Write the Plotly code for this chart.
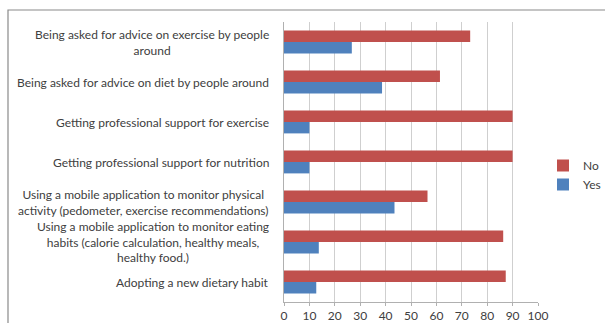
import plotly.graph_objects as go

# Survey items, listed top to bottom as drawn
categories = [
    "Being asked for advice on exercise by people<br>around",
    "Being asked for advice on diet by people around",
    "Getting professional support for exercise",
    "Getting professional support for nutrition",
    "Using a mobile application to monitor physical<br>activity (pedometer, exercise recommendations)",
    "Using a mobile application to monitor eating<br>habits (calorie calculation, healthy meals,<br>healthy food.)",
    "Adopting a new dietary habit",
]
no_values = [73.3, 61.4, 90.0, 90.0, 56.5, 86.3, 87.3]
yes_values = [26.7, 38.6, 10.0, 10.0, 43.5, 13.7, 12.7]
x_ticks = [0, 10, 20, 30, 40, 50, 60, 70, 80, 90, 100]

RED = "#C0504D"
BLUE = "#4F81BD"
TEXT = "#404040"
FONT = "Lato, 'Open Sans', sans-serif"

L, R, T, B = 284, 538, 22, 302
W, H = R - L, B - T


def px(x):
    return (x - L) / W


def py(y):
    return (B - y) / H


fig = go.Figure()
fig.add_trace(go.Bar(y=categories, x=no_values, name="No", orientation="h",
                     marker=dict(color=RED, line=dict(width=0))))
fig.add_trace(go.Bar(y=categories, x=yes_values, name="Yes", orientation="h",
                     marker=dict(color=BLUE, line=dict(width=0))))

# Category labels: right-aligned blocks, lines centred within each block
for cat in categories:
    fig.add_annotation(x=px(271), xref="paper", y=cat, yref="y", text=cat,
                       showarrow=False, xanchor="right", yanchor="middle",
                       align="center", font=dict(family=FONT, size=12, color=TEXT))

# Outer chart frame
fig.add_shape(type="rect", xref="paper", yref="paper",
              x0=px(8), x1=px(640), y0=py(360), y1=py(10),
              line=dict(color="#8a8a8a", width=1.2), layer="below")

fig.update_layout(
    width=605, height=323, autosize=False,
    margin=dict(l=L, r=605 - R, t=T, b=323 - B, autoexpand=False),
    paper_bgcolor="white", plot_bgcolor="white",
    barmode="group", bargap=0.43, bargroupgap=0,
    font=dict(family=FONT, size=12, color=TEXT),
    showlegend=True,
    legend=dict(x=px(543), y=py(151), xanchor="left", yanchor="top",
                font=dict(family=FONT, size=12, color=TEXT),
                bgcolor="rgba(0,0,0,0)"),
    xaxis=dict(range=[0, 100], tickvals=x_ticks, showgrid=True,
               gridcolor="#cfcfcf", gridwidth=1, zeroline=False,
               showline=True, linecolor="#b0b0b0", linewidth=1,
               ticks="outside", ticklen=3, tickcolor="#b0b0b0",
               ticklabelstandoff=0,
               tickfont=dict(family=FONT, size=12, color=TEXT),
               fixedrange=True),
    yaxis=dict(autorange="reversed", showticklabels=False, showgrid=False,
               showline=True, linecolor="#b0b0b0", linewidth=1,
               ticks="", fixedrange=True),
)

fig.write_html("out.html")
